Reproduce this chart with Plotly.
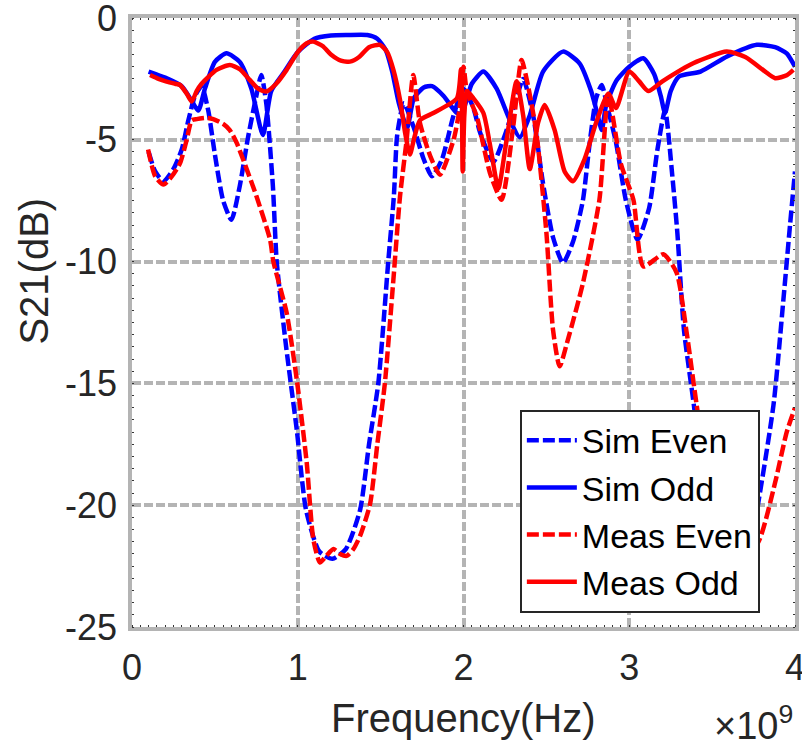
import numpy as np
import plotly.graph_objects as go

# ---- data (frequency in GHz, S21 in dB) ----
sim_even_f = [0.10, 0.14, 0.19, 0.25, 0.30, 0.34, 0.38, 0.42, 0.46, 0.50, 0.55, 0.60, 0.65, 0.70, 0.75,
              0.78, 0.81, 0.85, 0.873, 0.93, 0.994, 1.05, 1.13, 1.21, 1.29, 1.376, 1.43, 1.486, 1.546,
              1.58, 1.60, 1.64, 1.70, 1.76, 1.81, 1.87, 1.94, 2.00, 2.06, 2.10, 2.18, 2.25, 2.32, 2.36,
              2.42, 2.48, 2.54, 2.60, 2.66, 2.72, 2.76, 2.80, 2.834, 2.87, 2.92, 2.98, 3.05, 3.12, 3.17,
              3.216, 3.26, 3.29, 3.33, 3.39, 3.45, 3.55, 3.65, 3.75, 3.87, 3.93, 3.97, 4.00]
sim_even_db = [-5.5, -6.3, -6.7, -6.2, -5.4, -4.2, -3.2, -2.8, -3.8, -5.6, -7.5, -8.28, -6.9, -4.9, -3.2,
               -2.34, -3.5, -6.9, -10.0, -13.5, -16.9, -20.2, -21.9, -22.2, -21.8, -20.2, -17.5, -15.0, -10.0,
               -7.3, -4.8, -3.5, -4.5, -5.8, -6.5, -5.8, -4.0, -2.9, -3.7, -4.7, -5.9, -4.8, -3.3, -2.5,
               -4.0, -6.8, -9.0, -10.05, -9.2, -7.5, -5.2, -3.3, -2.75, -3.7, -5.1, -7.5, -9.1, -7.8, -5.4,
               -3.8, -6.5, -8.8, -12.8, -15.9, -19.5, -23.0, -24.0, -21.0, -15.9, -11.56, -8.5, -6.3]

sim_odd_f = [0.10, 0.20, 0.30, 0.36, 0.40, 0.44, 0.50, 0.57, 0.65, 0.72, 0.79, 0.84, 0.92, 1.00, 1.10,
             1.20, 1.30, 1.42, 1.48, 1.53, 1.57, 1.61, 1.66, 1.70, 1.76, 1.81, 1.88, 1.96, 1.99, 2.05,
             2.12, 2.20, 2.28, 2.34, 2.40, 2.48, 2.60, 2.70, 2.77, 2.81, 2.834, 2.86, 2.92, 3.00, 3.085,
             3.15, 3.19, 3.216, 3.25, 3.30, 3.43, 3.59, 3.77, 3.88, 3.95, 4.00]
sim_odd_db = [-2.2, -2.45, -2.8, -3.4, -3.8, -2.9, -1.8, -1.45, -1.8, -2.9, -4.8, -3.0, -2.2, -1.4, -0.85,
              -0.72, -0.70, -0.70, -0.85, -1.3, -2.2, -3.5, -4.5, -3.3, -2.85, -2.8, -3.2, -3.9, -3.9, -2.7,
              -2.2, -2.9, -4.2, -4.9, -4.0, -2.2, -1.38, -1.86, -3.0, -4.0, -4.6, -3.6, -2.6, -2.0, -1.65,
              -2.3, -3.2, -3.9, -3.0, -2.4, -2.2, -1.58, -1.1, -1.2, -1.45, -2.0]

meas_even_f = [0.097, 0.14, 0.19, 0.24, 0.29, 0.33, 0.36, 0.39, 0.45, 0.49, 0.55, 0.59, 0.63, 0.67, 0.75,
               0.833, 0.853, 0.933, 0.994, 1.054, 1.094, 1.134, 1.17, 1.215, 1.255, 1.295, 1.336, 1.376,
               1.436, 1.48, 1.526, 1.577, 1.617, 1.657, 1.697, 1.737, 1.80, 1.858, 1.94, 1.975, 2.00,
               2.02, 2.08, 2.16, 2.23, 2.30, 2.35, 2.39, 2.44, 2.50, 2.54, 2.58, 2.63, 2.72, 2.82, 2.874,
               2.95, 3.025, 3.085, 3.206, 3.286, 3.346, 3.407, 3.50, 3.65, 3.78, 3.88, 3.95, 4.00]
meas_even_db = [-5.4, -6.5, -6.84, -6.5, -5.96, -5.0, -4.2, -4.15, -4.1, -4.15, -4.35, -4.6, -5.1, -5.8, -7.3,
                -9.1, -10.0, -12.1, -14.84, -18.25, -21.4, -22.35, -22.1, -21.8, -22.0, -22.08, -21.8, -21.26,
                -19.96, -17.5, -14.97, -10.74, -7.32, -5.0, -2.34, -4.3, -5.68, -6.43, -5.0, -3.8, -2.0,
                -3.0, -4.04, -6.37, -7.46, -4.45, -1.72, -2.8, -4.73, -8.8, -12.8, -14.3, -13.2, -10.9, -7.46, -3.2,
                -6.0, -7.46, -10.2, -9.7, -10.46, -12.9, -15.9, -20.0, -22.5, -21.5, -19.07, -17.0, -16.0]

meas_odd_f = [0.109, 0.16, 0.209, 0.26, 0.29, 0.33, 0.36, 0.39, 0.42, 0.51, 0.59, 0.65, 0.71, 0.76, 0.81,
              0.87, 0.933, 1.00, 1.054, 1.094, 1.15, 1.20, 1.26, 1.315, 1.37, 1.43, 1.496, 1.54, 1.577,
              1.617, 1.65, 1.677, 1.70, 1.737, 1.818, 1.96, 1.985, 1.995, 2.005, 2.02, 2.06, 2.12, 2.17,
              2.21, 2.26, 2.32, 2.36, 2.40, 2.45, 2.49, 2.55, 2.61, 2.66, 2.73, 2.80, 2.874, 2.92, 3.00,
              3.06, 3.115, 3.20, 3.386, 3.588, 3.70, 3.82, 3.88, 3.95, 3.99]
meas_odd_db = [-2.34, -2.5, -2.61, -2.7, -2.75, -3.1, -3.43, -3.0, -2.7, -2.13, -1.93, -2.1, -2.54, -2.9, -3.02,
               -2.7, -2.13, -1.4, -1.04, -0.97, -1.15, -1.5, -1.75, -1.79, -1.6, -1.2, -1.1, -1.4, -2.13,
               -3.36, -4.8, -5.6, -5.0, -4.2, -3.9, -3.3, -2.1, -6.3, -4.0, -3.0, -3.3, -3.9, -5.6,
               -7.0, -5.0, -2.6, -4.0, -6.2, -4.3, -3.57, -4.6, -6.3, -6.7, -5.8, -4.3, -3.1, -3.7, -2.2,
               -2.6, -3.0, -2.6, -1.86, -1.38, -1.6, -2.2, -2.47, -2.35, -2.13]

series = [
    ("Sim Even", sim_even_f, sim_even_db, "#0000ff", "12px,4px"),
    ("Sim Odd", sim_odd_f, sim_odd_db, "#0000ff", "solid"),
    ("Meas Even", meas_even_f, meas_even_db, "#ff0000", "12px,4px"),
    ("Meas Odd", meas_odd_f, meas_odd_db, "#ff0000", "solid"),
]

x_ticks = [0, 1, 2, 3, 4]
y_ticks = [-25, -20, -15, -10, -5, 0]

fig = go.Figure()
for name, f, v, col, dash in series:
    fig.add_trace(go.Scatter(
        x=np.array(f) * 1e9, y=v, mode="lines", name=name,
        line=dict(color=col, width=4.5, dash=dash, shape="spline", smoothing=0.6),
    ))

FONT = "Liberation Sans, Arial, Helvetica, sans-serif"
grid = dict(showgrid=True, gridcolor="#b4b4b4", gridwidth=3.5, griddash="9px,3px")

fig.update_layout(
    width=802, height=750,
    margin=dict(l=132, r=7, t=18, b=123, autoexpand=False),
    paper_bgcolor="white", plot_bgcolor="white",
    font=dict(family=FONT, color="#262626", size=36),
    showlegend=True,
    legend=dict(
        x=0.585, y=0.357, xanchor="left", yanchor="top",
        bgcolor="white", bordercolor="#262626", borderwidth=2,
        font=dict(family=FONT, size=34, color="#000000"),
        itemwidth=50, tracegroupgap=0,
    ),
    xaxis=dict(
        range=[0, 4e9], tickvals=[t * 1e9 for t in x_ticks], ticktext=[str(t) for t in x_ticks],
        showline=True, linecolor="#b4b4b4", linewidth=3.5, mirror="allticks",
        ticks="", zeroline=False, ticklabelstandoff=6, automargin=False,
        ticklabeloverflow="allow",
        minor=dict(ticks="inside", dtick=0.05e9, ticklen=2, tickcolor="#333333", tickwidth=1, showgrid=False),
        tickfont=dict(size=36, family=FONT, color="#262626"),
        **grid,
    ),
    yaxis=dict(
        range=[-25, 0], tickvals=y_ticks, ticktext=[str(t) for t in y_ticks],
        showline=True, linecolor="#b4b4b4", linewidth=3.5, mirror="allticks",
        ticks="", zeroline=False, ticklabelstandoff=4, automargin=False,
        ticklabeloverflow="allow",
        minor=dict(ticks="inside", dtick=0.5, ticklen=2, tickcolor="#333333", tickwidth=1, showgrid=False),
        tickfont=dict(size=36, family=FONT, color="#262626"),
        **grid,
    ),
    annotations=[
        dict(text="Frequency(Hz)", xref="paper", yref="paper", x=0.5, y=-0.149,
             xanchor="center", yanchor="middle", showarrow=False,
             font=dict(size=40, family=FONT, color="#262626")),
        dict(text="S21(dB)", xref="paper", yref="paper", x=-0.148, y=0.585,
             xanchor="center", yanchor="middle", textangle=-90, showarrow=False,
             font=dict(size=40, family=FONT, color="#262626")),
        dict(text="×10<sup>9</sup>", xref="paper", yref="paper", x=1.0, y=-0.157,
             xanchor="right", yanchor="middle", showarrow=False,
             font=dict(size=38, family=FONT, color="#262626")),
    ],
)

fig.write_html("out.html", config={"displayModeBar": False},
               post_script="document.body.style.margin='0px';")
